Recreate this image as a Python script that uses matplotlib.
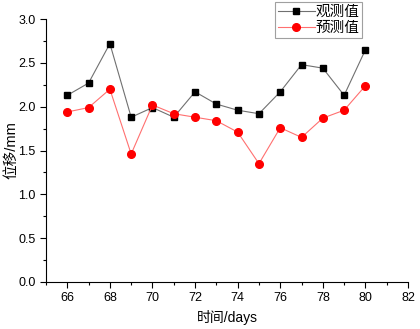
import matplotlib
matplotlib.use("Agg")
import matplotlib.pyplot as plt
from matplotlib.ticker import MultipleLocator

plt.rcParams['font.family'] = ['Liberation Sans', 'Noto Sans CJK SC']

days = [66, 67, 68, 69, 70, 71, 72, 73, 74, 75, 76, 77, 78, 79, 80]
observed = [2.13, 2.27, 2.72, 1.88, 1.99, 1.88, 2.17, 2.03, 1.96, 1.92, 2.17, 2.48, 2.44, 2.13, 2.65]
predicted = [1.94, 1.99, 2.20, 1.46, 2.02, 1.92, 1.88, 1.84, 1.71, 1.35, 1.76, 1.65, 1.87, 1.96, 2.24]

fig = plt.figure(figsize=(4.2, 3.29), dpi=100)
ax = fig.add_axes([0.1095, 0.143, 0.862, 0.799])

ax.plot(days, observed, color='#707070', lw=0.8, marker='s', ms=5,
        mfc='black', mec='black', label='观测值')
ax.plot(days, predicted, color='#ff7070', lw=0.8, marker='o', ms=5.5,
        mfc='red', mec='red', label='预测值')

ax.set_xlim(65, 82)
ax.set_ylim(0, 3.0)
ax.xaxis.set_major_locator(MultipleLocator(2))
ax.xaxis.set_minor_locator(MultipleLocator(1))
ax.yaxis.set_major_locator(MultipleLocator(0.5))
ax.yaxis.set_minor_locator(MultipleLocator(0.25))
ax.set_xticks([66, 68, 70, 72, 74, 76, 78, 80, 82])
ax.tick_params(which='major', direction='out', length=4, width=0.8, labelsize=9)
ax.tick_params(which='minor', direction='out', length=2.5, width=0.8)
for s in ['top', 'right']:
    ax.spines[s].set_visible(False)

ax.set_xlabel('时间/days', fontsize=10, labelpad=4)
ax.set_ylabel('位移/mm', fontsize=10.5)
ax.yaxis.set_label_coords(-0.077, 0.5)

leg = ax.legend(loc='upper left', bbox_to_anchor=(0.633, 1.065), fontsize=10.5,
                frameon=True, fancybox=False, edgecolor='#888888',
                handlelength=2.5, handletextpad=0.05, borderpad=0.2,
                labelspacing=0.15, borderaxespad=0)
leg.get_frame().set_linewidth(0.8)

fig.savefig('out.png', dpi=100)
